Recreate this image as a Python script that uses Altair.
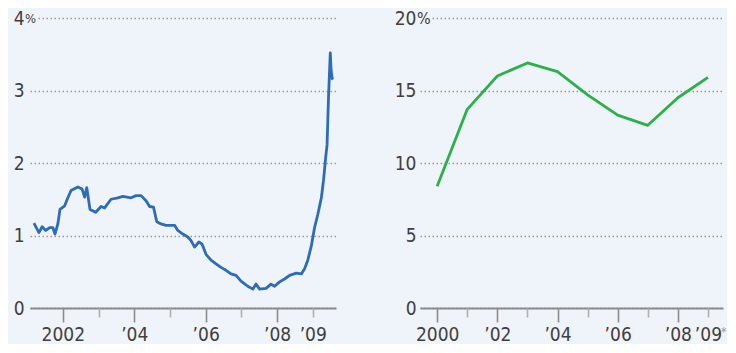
import altair as alt
import pandas as pd

# ---- left panel: weekly-ish series (percent) ----
left_year = [2001.19, 2001.33, 2001.42, 2001.52, 2001.63, 2001.72, 2001.78, 2001.86, 2001.92,
             2002.05, 2002.14, 2002.23, 2002.42, 2002.54, 2002.61, 2002.67, 2002.76, 2002.92,
             2003.07, 2003.17, 2003.35, 2003.54, 2003.68, 2003.91, 2004.05, 2004.19, 2004.33,
             2004.43, 2004.54, 2004.63, 2004.75, 2004.89, 2005.13, 2005.22, 2005.36, 2005.50,
             2005.59, 2005.69, 2005.81, 2005.90, 2006.01, 2006.15, 2006.29, 2006.43, 2006.57,
             2006.71, 2006.85, 2006.99, 2007.18, 2007.32, 2007.41, 2007.51, 2007.69, 2007.83,
             2007.93, 2008.07, 2008.21, 2008.35, 2008.54, 2008.68, 2008.77, 2008.86, 2008.96,
             2009.05, 2009.14, 2009.24, 2009.30, 2009.36, 2009.40, 2009.44, 2009.49, 2009.51,
             2009.54, 2009.56]
left_value = [1.17, 1.04, 1.12, 1.07, 1.11, 1.11, 1.02, 1.16, 1.36,
              1.41, 1.52, 1.62, 1.67, 1.64, 1.53, 1.66, 1.36, 1.32,
              1.40, 1.38, 1.50, 1.52, 1.54, 1.52, 1.55, 1.55, 1.48,
              1.40, 1.39, 1.19, 1.16, 1.14, 1.14, 1.07, 1.02, 0.98,
              0.93, 0.84, 0.91, 0.88, 0.74, 0.66, 0.61, 0.56, 0.52,
              0.47, 0.45, 0.37, 0.30, 0.26, 0.33, 0.26, 0.27, 0.33,
              0.30, 0.36, 0.40, 0.45, 0.48, 0.47, 0.54, 0.66, 0.86,
              1.11, 1.29, 1.52, 1.76, 2.07, 2.25, 2.90, 3.52, 3.30,
              3.17, 3.15]

# ---- right panel: annual series (percent) ----
right_year = [2000, 2001, 2002, 2003, 2004, 2005, 2006, 2007, 2008, 2009]
right_value = [8.4, 13.7, 16.0, 16.9, 16.3, 14.7, 13.3, 12.6, 14.5, 15.9]

left_y_ticks = [0, 1, 2, 3, 4]
right_y_ticks = [0, 5, 10, 15, 20]
left_major = [2002, 2004, 2006, 2008]
left_minor = [2003, 2005, 2007, 2009]
right_major = [2000, 2002, 2004, 2006, 2008]
right_minor = [2001, 2003, 2005, 2007, 2009]

FONT = "Liberation Sans Narrow, DejaVu Sans Condensed, Roboto, sans-serif"
BG = "#eff3fa"
TXT = "#3f3f3f"
FS = 19
H = 290

left_df = pd.DataFrame({"year": left_year, "value": left_value})
right_df = pd.DataFrame({"year": right_year, "value": right_value})

MINOR_EXPR = "datum.value == 2009 ? '\u2019' + substring(toString(datum.value), 2, 4) : ''"


def panel(df, color, xdom, ydom, yticks, major, minor, full_label_year, w, h, pct_size,
          cover_w, ypad):
    label_expr = ("datum.value == %d ? toString(datum.value) : "
                  "'\u2019' + substring(toString(datum.value), 2, 4)" % full_label_year)
    xs = alt.Scale(domain=xdom, nice=False, zero=False)
    ys = alt.Scale(domain=ydom, nice=False, zero=True)
    yaxis = alt.Axis(values=yticks, title=None, domain=False, ticks=False, format="d",
                     labelAlign="right", labelPadding=ypad, labelFont=FONT,
                     labelFontSize=FS, labelColor=TXT, grid=True,
                     gridColor="#9a9a9a", gridDash=[1.5, 2.5], gridWidth=1.4)
    major_axis = alt.Axis(values=major, title=None, orient="bottom", labelExpr=label_expr,
                          domainColor="#8c8c8c", domainWidth=2, tickColor="#8c8c8c",
                          tickWidth=1.6, tickSize=14, labelPadding=3, labelFont=FONT,
                          labelFontSize=FS, labelColor=TXT, labelOverlap=False,
                          labelFlush=False, grid=False)
    minor_axis = alt.Axis(values=minor, title=None, orient="bottom", labelExpr=MINOR_EXPR,
                          domain=False, tickColor="#b0b0b0", tickWidth=1.6, tickSize=9,
                          labelPadding=8, labelFont=FONT, labelFontSize=FS,
                          labelColor=TXT, labelOverlap=False, labelFlush=False, grid=False)
    line = alt.Chart(df).mark_line(color=color, strokeWidth=2.8, strokeJoin="round").encode(
        x=alt.X("year:Q", scale=xs, axis=major_axis),
        y=alt.Y("value:Q", scale=ys, axis=yaxis),
    )
    ghost = alt.Chart(df).mark_point(opacity=0).encode(
        x=alt.X("year:Q", scale=xs, axis=minor_axis),
        y=alt.value(0),
    )
    first = float(df["year"].iloc[0])
    cover = alt.Chart(df).mark_rect(color=BG).encode(
        x=alt.value(-ypad + 2), x2=alt.value(cover_w), y=alt.value(-5), y2=alt.value(5)
    ).transform_filter("datum.year == %r" % first)
    pct = alt.Chart(df).mark_text(
        text="%", font=FONT, fontSize=pct_size, color=TXT, align="left", baseline="middle",
        dx=-ypad + 1, dy=1
    ).encode(x=alt.value(0), y=alt.value(0)).transform_filter(
        "datum.year == %r" % first)
    return alt.layer(line, ghost, cover, pct).resolve_axis(x="independent").properties(
        width=w, height=h)


left = panel(left_df, "#2c6cb8", [2001.08, 2009.65], [0, 4], left_y_ticks,
             left_major, left_minor, 2002, 306, H, 13, 8, 6)
right = panel(right_df, "#2bb14a", [1999.43, 2009.5], [0, 20], right_y_ticks,
              right_major, right_minor, 2000, 303, H, 16, 11, 4)

star = alt.Chart(right_df).mark_text(text="*", font=FONT, fontSize=12, color="#999999",
                                     align="left", baseline="top", dx=13).encode(
    x=alt.X("year:Q", scale=alt.Scale(domain=[1999.43, 2009.5], nice=False, zero=False), axis=None),
    y=alt.value(H + 19),
).transform_filter("datum.year == 2009")

right = alt.layer(right, star)

chart = alt.hconcat(left, right, spacing=58).properties(
    background=BG,
    padding={"left": 5, "top": 1, "right": 0, "bottom": 0},
).configure_view(stroke=None)

chart.save("out.html", embed_options={"renderer": "svg", "actions": False})
